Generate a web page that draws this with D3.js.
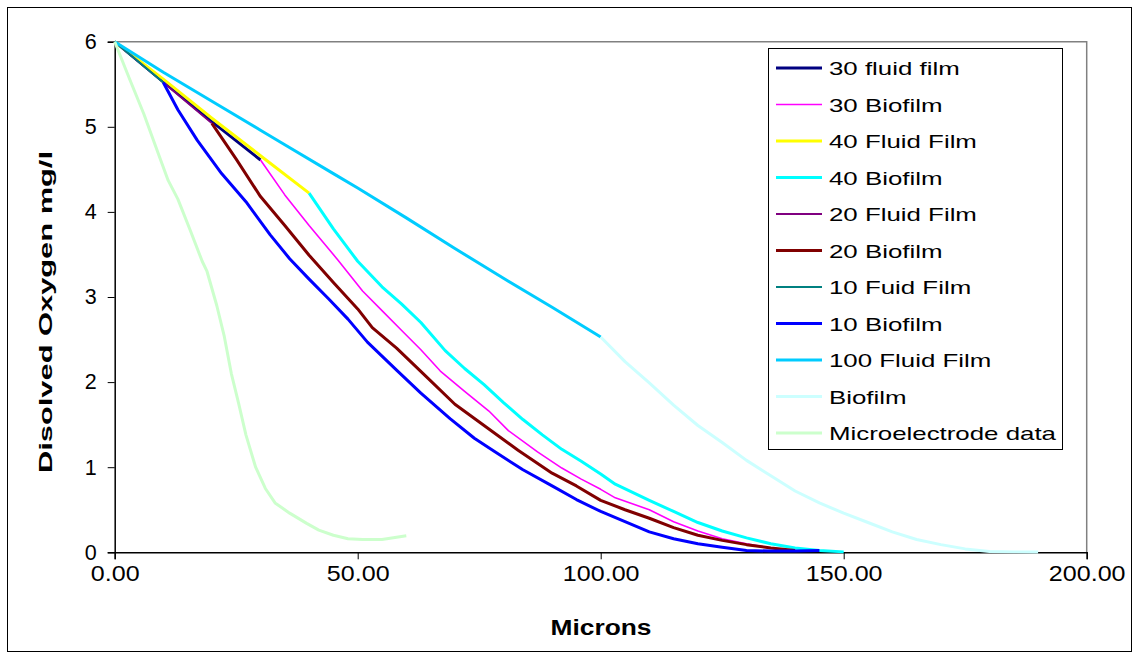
<!DOCTYPE html>
<html>
<head>
<meta charset="utf-8">
<script src="https://cdn.jsdelivr.net/npm/d3@7"></script>
<style>
  html, body { margin: 0; padding: 0; background: #fff; }
  svg { display: block; font-family: "Liberation Sans", Arial, sans-serif; }
</style>
</head>
<body>
<svg id="chart" width="1139" height="659"></svg>
<script>
// Dissolved oxygen profiles: [microns, mg/l]
const fluid30   = [[0,6],[10,5.53],[20,5.06],[30,4.61]];
const bio30     = [[30,4.61],[35,4.20],[40,3.84],[46,3.43],[51,3.07],[55,2.84],[59,2.61],[63,2.38],[67,2.13],[72,1.89],[77,1.66],[81,1.43],[87,1.18],[92,0.99],[96,0.86],[100,0.74],[103,0.64],[110,0.50],[115,0.36],[120,0.25],[125,0.16],[130,0.10],[135,0.05],[140,0.02]];
const fluid40   = [[0,6],[10,5.56],[20,5.10],[30,4.66],[40,4.22]];
const bio40     = [[40,4.22],[45,3.80],[50,3.42],[55,3.12],[59,2.92],[63,2.70],[68,2.37],[72,2.16],[76,1.97],[80,1.76],[84,1.56],[88,1.38],[92,1.21],[96,1.07],[100,0.92],[103,0.80],[110,0.61],[115,0.48],[120,0.35],[125,0.25],[130,0.17],[135,0.10],[140,0.05],[145,0.02],[150,0.005]];
const fluid20   = [[0,6],[10,5.52],[20,5.04]];
const bio20     = [[20,5.04],[25,4.62],[30,4.18],[35,3.84],[40,3.49],[45,3.17],[50,2.86],[53,2.64],[58,2.40],[64,2.07],[70,1.74],[76,1.49],[83,1.20],[90,0.93],[95,0.78],[100,0.61],[105,0.50],[110,0.40],[115,0.29],[120,0.20],[125,0.14],[130,0.09],[135,0.05],[140,0.02]];
const fluid10   = [[0,6],[10,5.52]];
const bio10     = [[10,5.52],[13,5.20],[17,4.84],[22,4.45],[27,4.12],[32,3.73],[36,3.45],[40,3.21],[44,2.98],[48,2.74],[52,2.47],[58,2.14],[63,1.87],[69,1.57],[74,1.34],[78,1.19],[84,0.97],[90,0.78],[95,0.62],[100,0.48],[105,0.36],[110,0.24],[115,0.16],[120,0.10],[125,0.06],[130,0.02],[135,0.015],[140,0.015],[145,0.02]];
const fluid100  = [[0,6],[10,5.64],[20,5.30],[30,4.96],[35,4.79],[45,4.45],[50,4.28],[60,3.93],[70,3.57],[80,3.22],[90,2.88],[100,2.53]];
const bio100    = [[100,2.53],[105,2.24],[110,1.99],[115,1.73],[120,1.49],[125,1.29],[130,1.08],[135,0.90],[140,0.72],[145,0.58],[150,0.46],[155,0.35],[160,0.24],[165,0.15],[170,0.09],[175,0.04],[180,0.01],[185,0.005],[190,0.005]];
const microelectrode = [[0,6],[3,5.57],[6,5.15],[9,4.68],[11,4.37],[13,4.15],[15.5,3.79],[18,3.42],[19,3.30],[21,2.9],[22.5,2.55],[24,2.1],[25.5,1.75],[27,1.38],[29,1.0],[31,0.75],[33,0.58],[36,0.46],[39.5,0.34],[42,0.26],[45,0.20],[48,0.16],[51,0.15],[55,0.15],[60,0.195]];

const seriesNames = ["30 fluid film","30 Biofilm","40 Fluid Film","40 Biofilm","20 Fluid Film","20 Biofilm","10 Fuid Film","10 Biofilm","100 Fluid Film","Biofilm","Microelectrode data"];
const seriesData  = [fluid30, bio30, fluid40, bio40, fluid20, bio20, fluid10, bio10, fluid100, bio100, microelectrode];
const seriesColors = ["#000080","#FF00FF","#FFFF00","#00FFFF","#800080","#800000","#008080","#0000FF","#00CCFF","#CCFFFF","#CCFFCC"];
const seriesWidths = [3, 1.6, 3, 3, 1.8, 3, 2, 3, 3, 3, 3];

const xTicks = [0, 50, 100, 150, 200];
const yTicks = [0, 1, 2, 3, 4, 5, 6];

const svg = d3.select("#chart");

// outer chart frame
svg.append("rect").attr("x", 7.5).attr("y", 7.5).attr("width", 1124).attr("height", 644)
  .attr("fill", "#fff").attr("stroke", "#000").attr("stroke-width", 1);

const plot = { left: 114.7, top: 41.7, right: 1086.7, bottom: 552.3 };
const x = d3.scaleLinear().domain([0, 200]).range([plot.left, plot.right]);
const y = d3.scaleLinear().domain([0, 6]).range([plot.bottom, plot.top]);

// plot area border (top and right in grey)
svg.append("path")
  .attr("d", `M${plot.left},${plot.top}H${plot.right}V${plot.bottom}`)
  .attr("fill", "none").attr("stroke", "#808080").attr("stroke-width", 1.5);

// stretch text horizontally to a given factor
function stretch(sel, factor) {
  sel.each(function () {
    const len = this.getComputedTextLength();
    d3.select(this).attr("textLength", len * factor).attr("lengthAdjust", "spacingAndGlyphs");
  });
}

// x axis
const xAxis = svg.append("g").attr("transform", `translate(0,${plot.bottom})`)
  .call(d3.axisBottom(x).tickValues(xTicks).tickFormat(d3.format(".2f")).tickSizeOuter(0).tickSize(7).tickPadding(5));
xAxis.select(".domain").attr("stroke", "#000").attr("stroke-width", 1.5);
xAxis.selectAll(".tick line").attr("stroke", "#000");
xAxis.selectAll(".tick text").attr("font-size", 22).attr("fill", "#000")
  .attr("font-family", "'Liberation Sans', Arial, sans-serif").attr("dy", "0.75em");
stretch(xAxis.selectAll(".tick text"), 1.14);

// y axis
const yAxis = svg.append("g").attr("transform", `translate(${plot.left},0)`)
  .call(d3.axisLeft(y).tickValues(yTicks).tickFormat(d3.format("d")).tickSizeOuter(0).tickSize(7).tickPadding(11));
yAxis.select(".domain").attr("stroke", "#000").attr("stroke-width", 1.5);
yAxis.selectAll(".tick line").attr("stroke", "#000");
yAxis.selectAll(".tick text").attr("font-size", 21.5).attr("fill", "#000")
  .attr("font-family", "'Liberation Sans', Arial, sans-serif");

// axis titles
svg.append("text").attr("x", 601).attr("y", 635).attr("text-anchor", "middle")
  .attr("font-size", 22).attr("font-weight", "bold").text("Microns")
  .attr("textLength", 101).attr("lengthAdjust", "spacingAndGlyphs");

svg.append("text").attr("transform", "translate(52,312) rotate(-90)").attr("text-anchor", "middle")
  .attr("font-size", 19).attr("font-weight", "bold").text("Disolved Oxygen mg/l")
  .attr("textLength", 322).attr("lengthAdjust", "spacingAndGlyphs");

// series lines
const line = d3.line().x(d => x(d[0])).y(d => y(d[1]));
const lines = svg.append("g").attr("fill", "none").attr("stroke-linejoin", "round");
seriesData.forEach((data, i) => {
  lines.append("path").datum(data).attr("d", line)
    .attr("stroke", seriesColors[i]).attr("stroke-width", seriesWidths[i]);
});

// legend
const legend = svg.append("g");
legend.append("rect").attr("x", 768.5).attr("y", 48.5).attr("width", 294).attr("height", 401)
  .attr("fill", "#fff").attr("stroke", "#000").attr("stroke-width", 1);
const rowY = d3.scaleLinear().domain([0, seriesNames.length - 1]).range([68, 433]);
seriesNames.forEach((name, i) => {
  const cy = rowY(i);
  legend.append("line").attr("x1", 776).attr("x2", 822).attr("y1", cy).attr("y2", cy)
    .attr("stroke", seriesColors[i]).attr("stroke-width", seriesWidths[i]);
  legend.append("text").attr("x", 829).attr("y", cy + 7).attr("font-size", 19).attr("fill", "#000").text(name);
});
stretch(legend.selectAll("text"), 1.36);
</script>
</body>
</html>
